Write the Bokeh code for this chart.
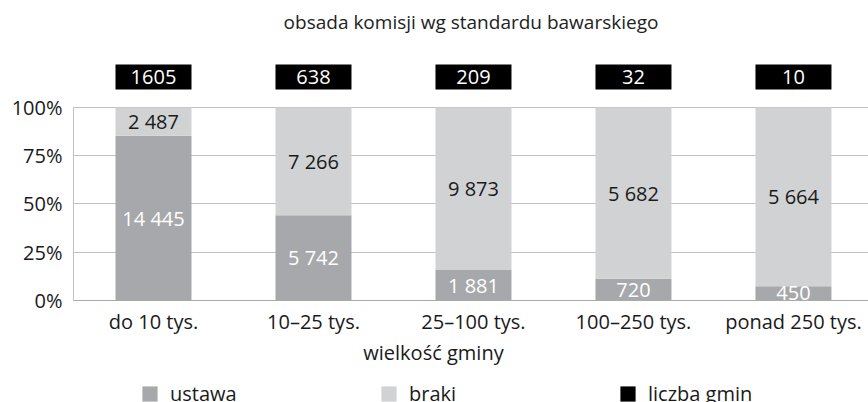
from bokeh.plotting import figure
from bokeh.layouts import column
from bokeh.models import (Range1d, FixedTicker, ColumnDataSource, Legend, LegendItem, LinearAxis)
from bokeh.embed import file_html
from bokeh.resources import INLINE
from bokeh.core.properties import value

# ---- data -------------------------------------------------------------
categories = ["do 10 tys.", "10–25 tys.", "25–100 tys.", "100–250 tys.", "ponad 250 tys."]
ustawa = [14445, 5742, 1881, 720, 450]
braki = [2487, 7266, 9873, 5682, 5664]
liczba_gmin = [1605, 638, 209, 32, 10]
y_ticks = [0, 0.25, 0.5, 0.75, 1.0]
y_tick_labels = ["0%", "25%", "50%", "75%", "100%"]

title_text = "obsada komisji wg standardu bawarskiego"
x_title = "wielkość gminy"
series_names = ["ustawa", "braki", "liczba gmin"]

# ---- styles -----------------------------------------------------------
FONT = "Open Sans"
C_USTAWA = "#a7a8ab"
C_BRAKI = "#d1d2d4"
C_GMIN = "#000000"
TXT = "#1a1a1a"
FS = "20px"

def fmt(n):
    return f"{n:,}".replace(",", " ")

xs = list(range(len(categories)))
tot = [u + b for u, b in zip(ustawa, braki)]
u_share = [u / t for u, t in zip(ustawa, tot)]
b_share = [b / t for b, t in zip(braki, tot)]
src = ColumnDataSource(dict(
    x=xs,
    u_top=u_share,
    b_top=[u + b for u, b in zip(u_share, b_share)],
    u_mid=[u / 2 for u in u_share],
    b_mid=[u + b / 2 for u, b in zip(u_share, b_share)],
    u_lab=[fmt(v) for v in ustawa],
    b_lab=[fmt(v) for v in braki],
    g_lab=[str(v) for v in liczba_gmin],
))

BOX_LEVEL = 1.158      # vertical placement of the "liczba gmin" boxes
BAR_W = 0.475
XLABEL_POS = 1.75      # horizontal placement of the x-axis title

W = 868
H_LEG = 30
H_MAIN = 402 - H_LEG

p = figure(width=W, height=H_MAIN, output_backend="svg", toolbar_location=None,
           x_range=Range1d(-0.5, 4.469), y_range=Range1d(0, 1.3575),
           min_border_left=73, min_border_right=0, min_border_top=38,
           min_border_bottom=72)
p.outline_line_color = None
p.background_fill_color = "white"
p.border_fill_color = "white"

p.title.text = title_text
p.title.align = "center"
p.title.text_font = FONT
p.title.text_font_size = "19px"
p.title.text_font_style = "normal"
p.title.text_color = "#222222"
p.title.standoff = 8

r_u = p.vbar(x="x", top="u_top", bottom=0, width=BAR_W, source=src,
             fill_color=C_USTAWA, line_color=None)
r_b = p.vbar(x="x", top="b_top", bottom="u_top", width=BAR_W, source=src,
             fill_color=C_BRAKI, line_color=None)
r_g = p.rect(x="x", y=BOX_LEVEL, width=BAR_W, height=25, height_units="screen",
             source=src, fill_color=C_GMIN, line_color=None)

p.text(x="x", y="u_mid", text="u_lab", source=src, text_color="white",
       text_align="center", text_baseline="middle",
       text_font=value(FONT), text_font_size=FS)
p.text(x="x", y="b_mid", text="b_lab", source=src, text_color=TXT,
       text_align="center", text_baseline="middle",
       text_font=value(FONT), text_font_size=FS)
p.text(x="x", y=BOX_LEVEL, text="g_lab", source=src, text_color="white",
       text_align="center", text_baseline="middle",
       text_font=value(FONT), text_font_size=FS)

# grid / axes
p.xgrid.grid_line_color = None
p.ygrid.ticker = FixedTicker(ticks=y_ticks)
p.ygrid.grid_line_color = "#c0c0c0"
p.ygrid.grid_line_width = 1

p.yaxis.ticker = FixedTicker(ticks=y_ticks)
p.yaxis.major_label_overrides = {t: l for t, l in zip(y_ticks, y_tick_labels)}
p.yaxis.bounds = (0, 1)
p.yaxis.axis_line_color = "#c0c0c0"
p.yaxis.major_tick_line_color = None
p.yaxis.minor_tick_line_color = None
p.yaxis.major_tick_out = 0
p.yaxis.major_label_standoff = 11
p.yaxis.major_label_text_font = FONT
p.yaxis.major_label_text_font_size = FS
p.yaxis.major_label_text_color = TXT

p.xaxis.ticker = FixedTicker(ticks=xs)
p.xaxis.major_label_overrides = {i: c for i, c in zip(xs, categories)}
p.xaxis.axis_line_color = "#a9a9a9"
p.xaxis.major_tick_line_color = None
p.xaxis.minor_tick_line_color = None
p.xaxis.major_tick_out = 0
p.xaxis.major_label_standoff = 7
p.xaxis.major_label_text_font = FONT
p.xaxis.major_label_text_font_size = FS
p.xaxis.major_label_text_color = TXT

# x-axis title, drawn as the single label of a second, line-less axis
xt_axis = LinearAxis(ticker=FixedTicker(ticks=[XLABEL_POS]),
                     major_label_overrides={XLABEL_POS: x_title},
                     axis_line_color=None, major_tick_line_color=None,
                     minor_tick_line_color=None, major_tick_out=0,
                     major_label_standoff=1, major_label_text_font=FONT,
                     major_label_text_font_size=FS, major_label_text_color=TXT)
p.add_layout(xt_axis, "below")

# ---- legend strip (own small figure; its glyphs lie outside its ranges) ----
q = figure(width=W, height=H_LEG, output_backend="svg", toolbar_location=None,
           x_range=Range1d(100, 101), y_range=Range1d(100, 101),
           x_axis_location=None, y_axis_location=None,
           min_border_left=0, min_border_right=0, min_border_top=0,
           min_border_bottom=0)
q.outline_line_color = None
q.grid.visible = False
q.background_fill_color = "white"
q.border_fill_color = "white"

l_u = q.vbar(x="x", top="u_top", bottom=0, width=BAR_W, source=src,
             fill_color=C_USTAWA, line_color=None)
l_b = q.vbar(x="x", top="b_top", bottom="u_top", width=BAR_W, source=src,
             fill_color=C_BRAKI, line_color=None)
l_g = q.rect(x="x", y=BOX_LEVEL, width=BAR_W, height=25, height_units="screen",
             source=src, fill_color=C_GMIN, line_color=None)

legend = Legend(items=[LegendItem(label=series_names[0], renderers=[l_u]),
                       LegendItem(label=series_names[1], renderers=[l_b]),
                       LegendItem(label=series_names[2], renderers=[l_g])],
                orientation="horizontal", location=(67, -5),
                glyph_width=19, glyph_height=19, label_standoff=11,
                label_width=153, spacing=56, padding=0, margin=0,
                border_line_color=None, background_fill_alpha=0,
                label_text_font=FONT, label_text_font_size=FS,
                label_text_color=TXT)
q.add_layout(legend)

layout = column(p, q, spacing=0)
open("out.html", "w").write(file_html(layout, INLINE))
